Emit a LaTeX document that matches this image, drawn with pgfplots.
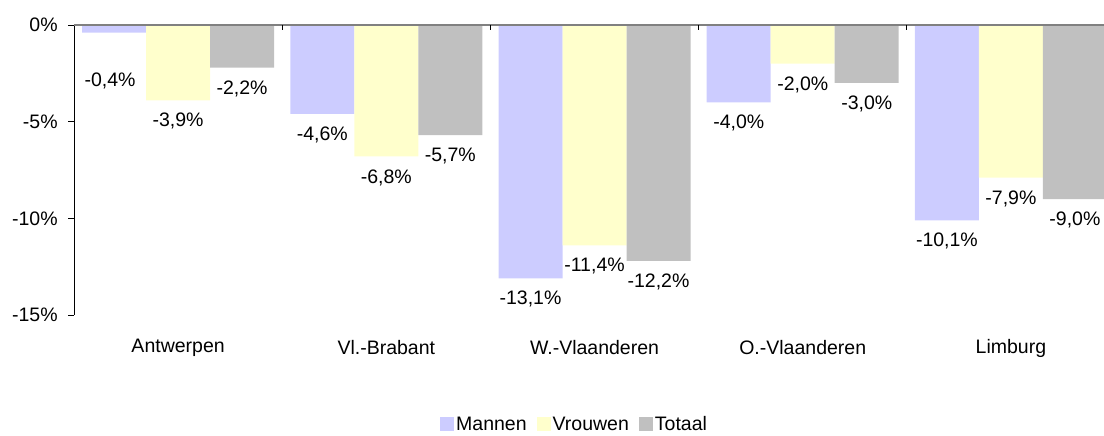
\documentclass[border=0pt]{standalone}
\usepackage{pgfplots}
\pgfplotsset{compat=1.18}
\usepackage{fontspec}
\setmainfont{Liberation Sans}
\definecolor{mannen}{HTML}{CCCCFF}
\definecolor{vrouwen}{HTML}{FFFFCC}
\definecolor{totaal}{HTML}{C0C0C0}
\definecolor{axgray}{HTML}{808080}
\begin{document}
\fontsize{9.75}{11.7}\selectfont
\begin{tikzpicture}
\begin{axis}[
  name=ax,
  x=104.1pt, y=9.667pt,
  xmin=-0.5, xmax=4.447,
  ymin=-15, ymax=0,
  ybar=0pt,
  bar width=32pt,
  axis line style={draw=none},
  xtick={0,1,2,3,4},
  xticklabels={Antwerpen,Vl.-Brabant,W.-Vlaanderen,O.-Vlaanderen,Limburg},
  x tick style={draw=none},
  x tick label style={anchor=center, yshift=-13.5pt},
  ytick={-15,-10,-5,0},
  ytick pos=left,
  y tick style={black, thin},
  tick align=outside,
  major tick length=3pt,
  yticklabel={\pgfmathprintnumber{\tick}\%},
  y tick label style={anchor=east, inner sep=0pt, xshift=-5pt},
  /pgf/number format/assume math mode=true,
  tick label style={font=\fontsize{9.75}{11.7}\selectfont},
  nodes near coords={\pgfmathprintnumber[fixed,fixed zerofill,precision=1,use comma]{\pgfplotspointmeta}\%},
  nodes near coords style={font=\fontsize{9.75}{11.7}\selectfont, anchor=center, yshift=-10.5pt, inner sep=0pt},
  coordinate style/.condition={y>-1}{yshift=-13.5pt, xshift=-2pt},
  legend columns=3,
  legend style={at={(0.486,-0.379)}, anchor=center, draw=none, fill=none,
    font=\fontsize{9.75}{11.7}\selectfont,
    nodes={inner xsep=1pt},
    /tikz/every even column/.append style={column sep=4pt}},
  legend image code/.code={\fill[#1] (0pt,-3pt) rectangle (7pt,4pt);},
]
\addplot[fill=mannen, draw=none] coordinates {(0,-0.4) (1,-4.6) (2,-13.1) (3,-4.0) (4,-10.1)};
\addplot[fill=vrouwen, draw=none] coordinates {(0,-3.9) (1,-6.8) (2,-11.4) (3,-2.0) (4,-7.9)};
\addplot[fill=totaal, draw=none] coordinates {(0,-2.2) (1,-5.7) (2,-12.2) (3,-3.0) (4,-9.0)};
\legend{Mannen,Vrouwen,Totaal}
\draw[black, thin] (rel axis cs:0,0) -- (rel axis cs:0,1);
\draw[axgray, line width=1pt] (rel axis cs:0,1) -- (rel axis cs:1,1);
\draw[black, thin] (axis cs:0.5,0) -- ++(0pt,-2.5pt);
\draw[black, thin] (axis cs:1.5,0) -- ++(0pt,-2.5pt);
\draw[black, thin] (axis cs:2.5,0) -- ++(0pt,-2.5pt);
\draw[black, thin] (axis cs:3.5,0) -- ++(0pt,-2.5pt);
\end{axis}
\pgfresetboundingbox
\path[use as bounding box] ([xshift=-37pt,yshift=12.5pt]ax.north west) rectangle ([yshift=-60pt]ax.south east);
\end{tikzpicture}
\end{document}
